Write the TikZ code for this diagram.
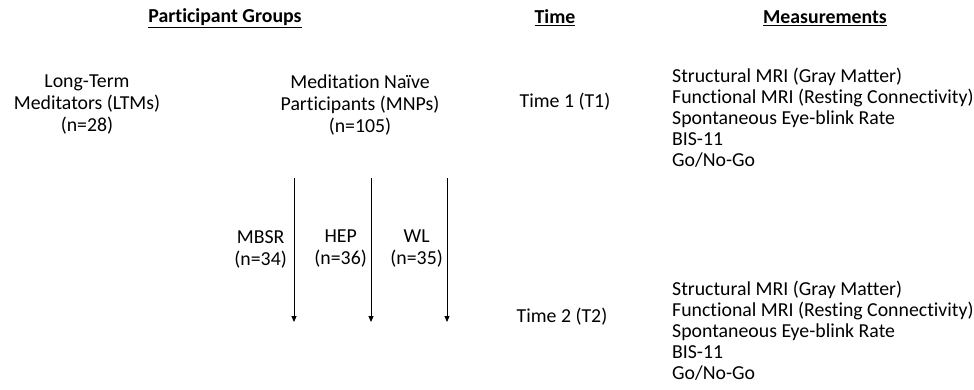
\documentclass[tikz,border=0pt]{standalone}
\usepackage{fontspec}
\setmainfont[Ligatures=NoCommon]{Carlito}
\usetikzlibrary{arrows.meta}

\begin{document}
\begin{tikzpicture}[x=1pt,y=-1pt]

      \useasboundingbox (0,0) rectangle (974,389);

      \begin{scope}[every node/.style={font=\fontsize{19.8}{21}\selectfont\bfseries}]
        \node (groups) at (225,18) {\underline{Participant Groups}};
        \node (time)   at (555,18) {\underline{Time}};
        \node (meas)   at (825,18) {\underline{Measurements}};
      \end{scope}

      \begin{scope}[every node/.style={align=center,inner sep=0pt,font=\fontsize{19.8}{22}\selectfont}]
        \node (ltm) at (87,105)  {Long-Term\\Meditators (LTMs)\\(n=28)};
        \node (mnp) at (360,105) {Meditation Naïve\\Participants (MNPs)\\(n=105)};
        \node (t1)  at (565,102) {Time 1 (T1)};
        \node (t2)  at (562,317) {Time 2 (T2)};
        \node[anchor=east] (mbsr) at (287,249) {MBSR\\(n=34)};
        \node[anchor=east] (hep)  at (367,249) {HEP\\(n=36)};
        \node[anchor=east] (wl)   at (443,249) {WL\\(n=35)};
      \end{scope}

      \begin{scope}[every node/.style={align=left,anchor=west,inner sep=0pt,font=\fontsize{19.8}{21}\selectfont}]
        \node (m1) at (672,118) {Structural MRI (Gray Matter)\\Functional MRI (Resting Connectivity)\\Spontaneous Eye-blink Rate\\BIS-11\\Go/No-Go};
        \node (m2) at (672,331) {Structural MRI (Gray Matter)\\Functional MRI (Resting Connectivity)\\Spontaneous Eye-blink Rate\\BIS-11\\Go/No-Go};
      \end{scope}

      \coordinate (a1) at (294,178);
      \coordinate (b1) at (294,322);
      \coordinate (a2) at (371,178);
      \coordinate (b2) at (371,322);
      \coordinate (a3) at (447,178);
      \coordinate (b3) at (447,322);

      \begin{scope}[every edge/.style={draw,line width=0.9pt,-{Triangle[length=6pt,width=5pt]}}]
        \path (a1) edge (b1);
        \path (a2) edge (b2);
        \path (a3) edge (b3);
      \end{scope}

    \end{tikzpicture}
\end{document}
